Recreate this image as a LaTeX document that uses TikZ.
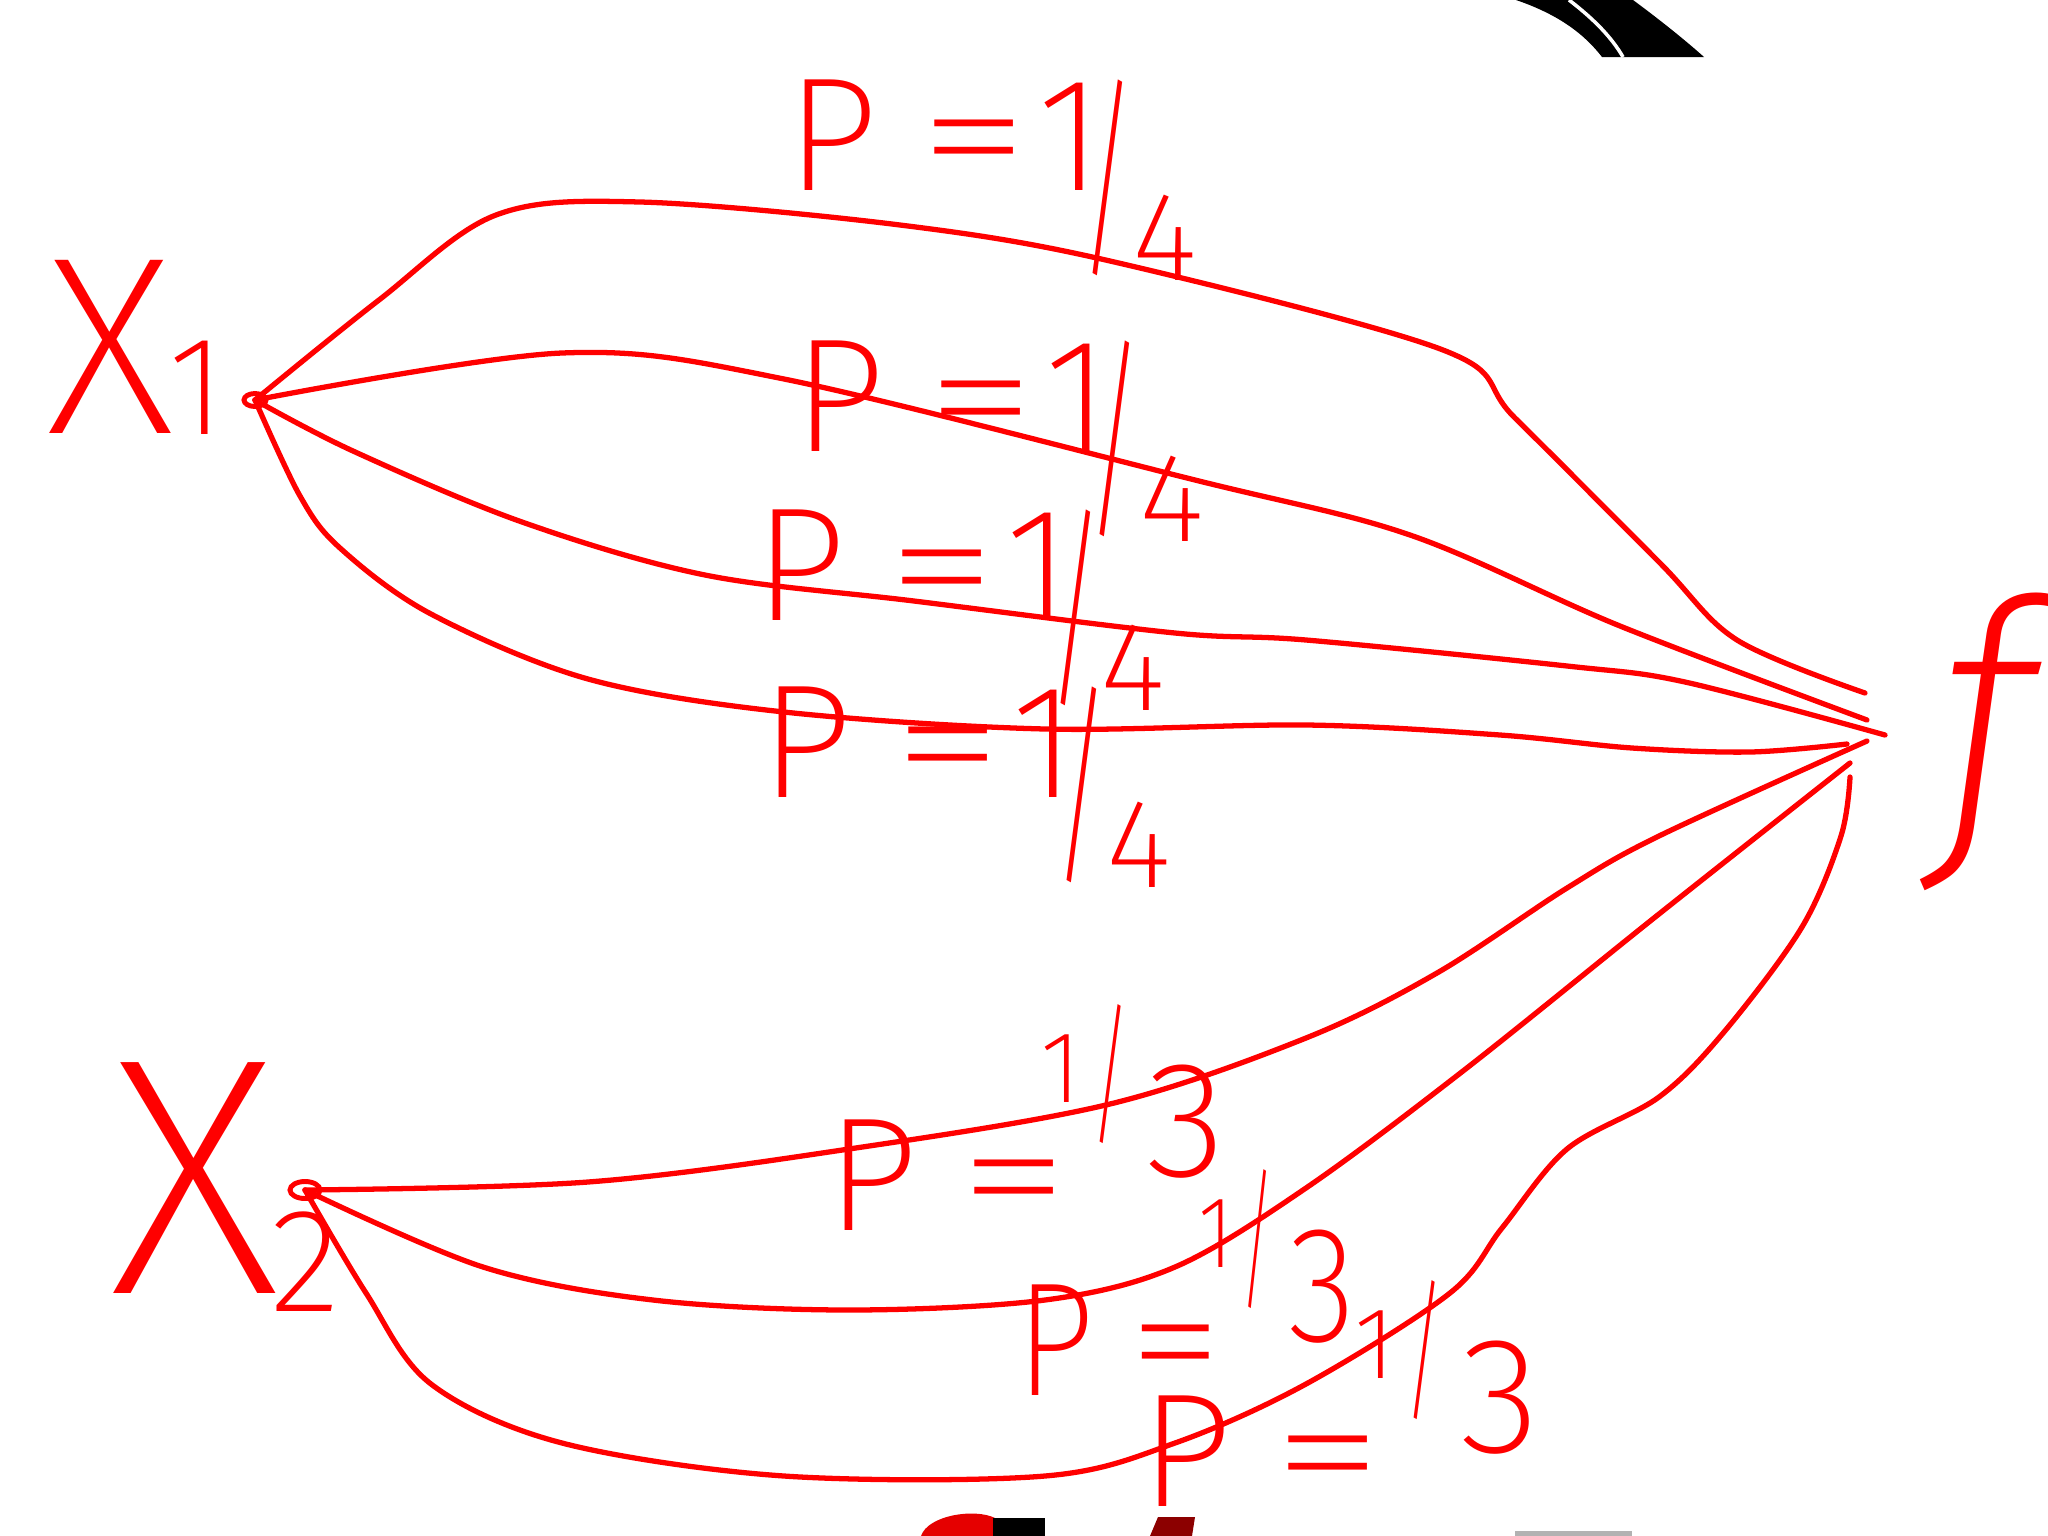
\documentclass[tikz,border=0pt]{standalone}
\usepackage{fontspec}
\newfontfamily\hand{Fira Sans ExtraLight}
\usetikzlibrary{shapes.geometric}
\definecolor{ink}{RGB}{255,0,0}
% quarter: 1 high, long slash, 4 low
\newcommand\hfrA[2]{{#1}\kern-0.15em\raisebox{-0.4em}{\scalebox{0.5}[1]{\fontsize{62}{62}\selectfont/}}\kern-0.02em\raisebox{-0.56em}{\fontsize{36}{36}\selectfont #2}}
% third: small 1 above the equals sign, upright bar, 3
\newcommand\hfrB[2]{\kern-0.23em\raisebox{0.79em}{\fontsize{29}{29}\selectfont #1}\kern0.05em\raisebox{0.63em}{\scalebox{0.5}[1]{\fontsize{44}{44}\selectfont/}}\kern0.1em\raisebox{0.33em}{\fontsize{47}{47}\selectfont #2}}
\newcommand\peqA[2]{P\hspace{0.25em}\scalebox{1.4}[1]{=}\kern0.05em\hfrA{#1}{#2}}
\newcommand\peqB[2]{P\hspace{0.25em}\scalebox{1.4}[1]{=}\kern0.05em\hfrB{#1}{#2}}
\begin{document}
\begin{tikzpicture}[x=0.01cm,y=-0.01cm,
  curve/.style={draw=ink, line width=1.5pt, line cap=round, line join=round},
  lab/.style={text=ink, font=\hand\fontsize{46}{50}\selectfont, anchor=base west, inner sep=0pt},
  dot/.style={draw=ink, line width=1.4pt, ellipse, inner sep=0pt}]
\useasboundingbox (0,0) rectangle (2048,1536);
\fill[white] (0,0) rectangle (2048,1536);
% source points
\node[dot, minimum width=0.22cm, minimum height=0.13cm] (x1) at (255,400) {};
\node[dot, minimum width=0.3cm, minimum height=0.17cm] (x2) at (305,1190) {};
% labels of sources and target
\node[text=ink, font=\hand\fontsize{72}{72}\selectfont, inner sep=0pt] (x1X) at (110,347) {X};
\node[text=ink, font=\hand\fontsize{40}{40}\selectfont, inner sep=0pt] (x1s) at (197,388) {1};
\node[text=ink, font=\hand\fontsize{96}{96}\selectfont, inner sep=0pt] (x2X) at (195,1178) {X};
\node[text=ink, font=\hand\fontsize{42}{42}\selectfont, inner sep=0pt] (x2s) at (305,1262) {2};
\node[text=ink, font=\hand\fontsize{90}{90}\selectfont\itshape, inner sep=0pt] (fl) at (1985,742) {f};
% end points near f
\coordinate (fa) at (1865,693);
\coordinate (fb) at (1867,720);
\coordinate (fc) at (1885,735);
\coordinate (fd) at (1847,744);
\coordinate (fe) at (1867,741);
\coordinate (ff) at (1850,763);
\coordinate (fg) at (1850,777);
% curves from X1
\draw[curve] plot[smooth, tension=0.55] coordinates {(x1) (379,300) (496,215) (640,202) (900,225) (1110,261) (1443,350) (1515,418) (1659,562) (1737,640) (fa)};
\draw[curve] plot[smooth, tension=0.55] coordinates {(x1) (562,353) (784,379) (1195,480) (1410,535) (1620,626) (fb)};
\draw[curve] plot[smooth, tension=0.55] coordinates {(x1) (353,451) (522,522) (705,575) (914,601) (1175,633) (1306,640) (1567,666) (1685,682) (fc)};
\draw[curve] plot[smooth, tension=0.55] coordinates {(x1) (300,496) (340,548) (431,614) (588,679) (784,712) (1045,729) (1306,725) (1500,735) (1632,748) (1750,752) (fd)};
% curves from X2
\draw[curve] plot[smooth, tension=0.55] coordinates {(x2) (588,1182) (849,1149) (1110,1104) (1306,1038) (1437,973) (1567,888) (1659,836) (fe)};
\draw[curve] plot[smooth, tension=0.55] coordinates {(x2) (483,1267) (653,1300) (849,1310) (1045,1300) (1175,1267) (1306,1188) (1463,1071) (1659,914) (ff)};
\draw[curve] plot[smooth, tension=0.55] coordinates {(x2) (366,1293) (431,1384) (562,1443) (784,1476) (1045,1476) (1175,1443) (1306,1384) (1450,1293) (1502,1228) (1567,1149) (1659,1097) (1724,1032) (1802,927) (1841,836) (fg)};
% probability labels
\node[lab] (p1) at (786,190) {\peqA{1}{4}};
\node[lab] (p2) at (793,451) {\peqA{1}{4}};
\node[lab] (p3) at (754,620) {\peqA{1}{4}};
\node[lab] (p4) at (760,797) {\peqA{1}{4}};
\node[lab] (p5) at (826,1230) {\peqB{1}{3}};
\node[lab] (p6) at (1016,1395) {\scalebox{0.85}[1]{\peqB{1}{3}}};
\node[lab] (p7) at (1140,1506) {\peqB{1}{3}};
% screen artefacts
\fill[black] (1516,0) -- (1633,0) .. controls (1660,20) and (1685,40) .. (1704,57) -- (1602,57) .. controls (1585,35) and (1560,15) .. cycle;
\draw[white, line width=1pt] (1569,0) .. controls (1595,20) and (1612,38) .. (1623,57);
\fill[red!90!black] (921,1536) .. controls (928,1515) and (975,1508) .. (995,1518) -- (995,1536) -- cycle;
\fill[black] (993,1518) rectangle (1045,1536);
\fill[red!55!black] (1150,1536) -- (1158,1517) -- (1195,1517) -- (1192,1536) -- cycle;
\fill[gray!60] (1515,1531) rectangle (1632,1536);
\end{tikzpicture}
\end{document}
